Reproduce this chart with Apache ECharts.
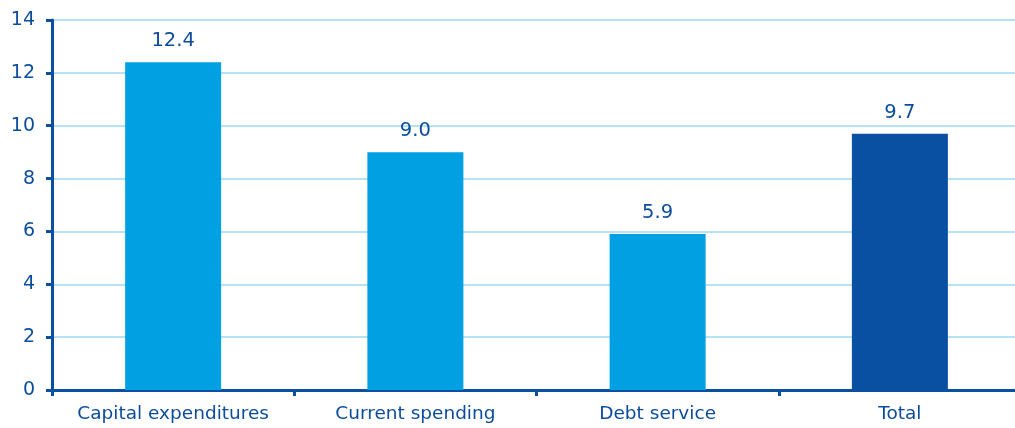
<!DOCTYPE html>
<html>
<head>
<meta charset="utf-8">
<script src="https://cdn.jsdelivr.net/npm/echarts@6/dist/echarts.min.js"></script>
<style>
  html, body { margin: 0; padding: 0; background: #fff; }
  #chart { width: 1015px; height: 428px; }
</style>
</head>
<body>
<div id="chart"></div>
<script>
// Spending growth by category, percent
const categories = ['Capital expenditures', 'Current spending', 'Debt service', 'Total'];
const values = [12.4, 9.0, 5.9, 9.7];
const yTicks = [0, 2, 4, 6, 8, 10, 12, 14];

const light = '#00a0e3';
const dark = '#0950a2';
const textColor = '#0b4c9c';
const fontFamily = '"DejaVu Sans", Verdana, sans-serif';

const chart = echarts.init(document.getElementById('chart'));
chart.setOption({
  animation: false,
  grid: {
    left: 52, top: 20, width: 969, bottom: 38,
    containLabel: false, outerBoundsMode: 'none'
  },
  xAxis: {
    type: 'category',
    data: categories,
    axisLine: { lineStyle: { color: dark, width: 3 } },
    axisTick: { show: true, interval: 0, length: 6, lineStyle: { color: dark, width: 3 } },
    axisLabel: { interval: 0, color: textColor, fontSize: 18.5, fontFamily, margin: 15 }
  },
  yAxis: {
    type: 'value',
    min: yTicks[0],
    max: yTicks[yTicks.length - 1],
    interval: 2,
    axisLine: { show: true, lineStyle: { color: dark, width: 3 } },
    axisTick: { show: true, length: 6, lineStyle: { color: dark, width: 3 } },
    axisLabel: { color: textColor, fontSize: 19, fontFamily, margin: 17 },
    splitLine: { lineStyle: { color: '#b5e2f4', width: 2 } }
  },
  series: [{
    type: 'bar',
    barWidth: 96,
    data: values.map((v, i) => ({
      value: v,
      itemStyle: { color: i === values.length - 1 ? dark : light }
    })),
    label: {
      show: true,
      position: 'top',
      distance: 11,
      color: textColor,
      fontSize: 19.5,
      fontFamily,
      formatter: p => p.value.toFixed(1)
    }
  }]
});
</script>
</body>
</html>
